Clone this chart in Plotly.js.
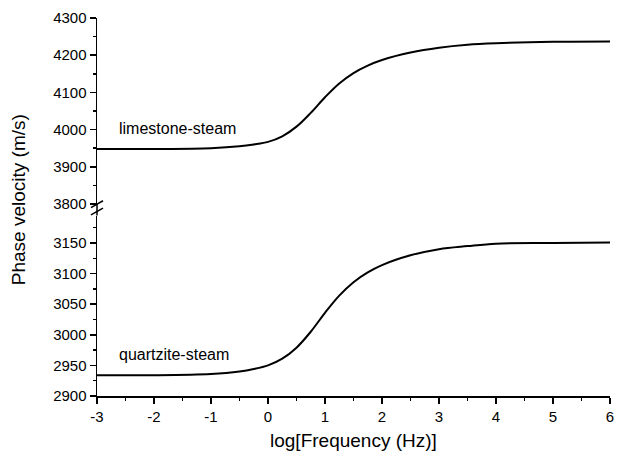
<!DOCTYPE html>
<html>
<head>
<meta charset="utf-8">
<script src="https://cdn.plot.ly/plotly-3.0.1.min.js"></script>
<style>
html,body{margin:0;padding:0;background:#fff;}
#chart{width:618px;height:462px;}
</style>
</head>
<body>
<div id="chart"></div>
<script>
// log10 of frequency (Hz)
var logFreq = [-3, -2, -1, -0.5, -0.25, 0, 0.25, 0.5, 0.75, 1, 1.25, 1.5, 1.75, 2, 2.5, 3, 3.5, 4, 5, 6];
// phase velocity (m/s)
var limestoneSteam = [3948, 3948, 3950, 3955, 3960, 3967, 3982, 4008, 4045, 4087, 4124, 4152, 4172, 4187, 4207, 4220, 4228, 4232, 4236, 4237];
var quartziteSteam = [2934, 2934, 2936, 2940, 2944, 2950, 2961, 2979, 3005, 3036, 3064, 3086, 3102, 3114, 3130, 3140, 3145, 3149, 3150, 3151];

var seriesNames = ["limestone-steam", "quartzite-steam"];
var xTickVals = [-3, -2, -1, 0, 1, 2, 3, 4, 5, 6];
var xTickText = ["-3", "-2", "-1", "0", "1", "2", "3", "4", "5", "6"];
var xTitle = "log[Frequency (Hz)]";
var yTitle = "Phase velocity (m/s)";

var FONT = "Liberation Sans, Arial, sans-serif";

var traces = [
  {x: logFreq, y: quartziteSteam, xaxis: "x", yaxis: "y", mode: "lines",
   line: {color: "#000", width: 2, shape: "spline", smoothing: 1}, name: seriesNames[1], hoverinfo: "skip"},
  {x: logFreq, y: limestoneSteam, xaxis: "x", yaxis: "y2", mode: "lines",
   line: {color: "#000", width: 2, shape: "spline", smoothing: 1}, name: seriesNames[0], hoverinfo: "skip"}
];

var axisCommon = {
  showline: true, linecolor: "#000", linewidth: 1.5,
  ticks: "outside", ticklen: 6, tickwidth: 1.5, tickcolor: "#000",
  showgrid: false, zeroline: false,
  tickfont: {family: FONT, size: 15, color: "#000"}
};

var layout = {
  width: 618, height: 462,
  margin: {l: 97, r: 8, t: 18, b: 66},
  paper_bgcolor: "#fff", plot_bgcolor: "#fff",
  showlegend: false,
  xaxis: Object.assign({}, axisCommon, {
    range: [-3, 6], tickmode: "array", tickvals: xTickVals, ticktext: xTickText, anchor: "y",
    minor: {dtick: 0.5, tick0: 0, ticks: "outside", ticklen: 3, tickwidth: 1.5, tickcolor: "#000"}
  }),
  yaxis: Object.assign({}, axisCommon, {
    domain: [0, 0.4775], range: [2900, 3195], dtick: 50, tick0: 2900, anchor: "x",
    minor: {dtick: 25, ticks: "outside", ticklen: 3, tickwidth: 1.5, tickcolor: "#000"}
  }),
  yaxis2: Object.assign({}, axisCommon, {
    domain: [0.508, 1], range: [3800, 4300], dtick: 100, tick0: 3800, anchor: "x",
    minor: {dtick: 50, ticks: "outside", ticklen: 3, tickwidth: 1.5, tickcolor: "#000"}
  }),
  annotations: [
    {text: seriesNames[0], xref: "x", yref: "y2", x: -2.65, y: 4004, xanchor: "left", yanchor: "middle",
     showarrow: false, font: {family: FONT, size: 16, color: "#000"}},
    {text: seriesNames[1], xref: "x", yref: "y", x: -2.65, y: 2968, xanchor: "left", yanchor: "middle",
     showarrow: false, font: {family: FONT, size: 16, color: "#000"}},
    {text: yTitle, xref: "paper", yref: "paper", x: 0, y: 0.518, xshift: -79, textangle: -90,
     xanchor: "center", yanchor: "middle", showarrow: false, font: {family: FONT, size: 19, color: "#000"}},
    {text: xTitle, xref: "paper", yref: "paper", x: 0.5, y: 0, yshift: -44,
     xanchor: "center", yanchor: "middle", showarrow: false, font: {family: FONT, size: 19, color: "#000"}}
  ],
  shapes: [
    {type: "line", xref: "paper", yref: "paper", x0: 0, x1: 0, y0: 0.4775, y1: 0.508,
     line: {color: "#000", width: 1.5}},
    {type: "line", xref: "paper", yref: "paper", x0: -0.0117, x1: 0.0117, y0: 0.4985, y1: 0.5165,
     line: {color: "#000", width: 1.5}},
    {type: "line", xref: "paper", yref: "paper", x0: -0.0117, x1: 0.0117, y0: 0.479, y1: 0.497,
     line: {color: "#000", width: 1.5}}
  ]
};

Plotly.newPlot("chart", traces, layout, {staticPlot: true, displayModeBar: false});
</script>
</body>
</html>
